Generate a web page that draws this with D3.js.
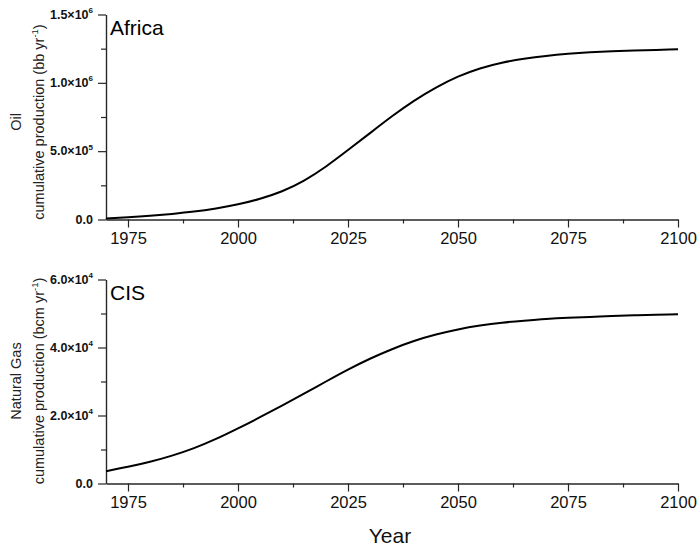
<!DOCTYPE html>
<html>
<head>
<meta charset="utf-8">
<script src="https://cdn.jsdelivr.net/npm/d3@7/dist/d3.min.js"></script>
<style>
  html, body { margin: 0; padding: 0; background: #fff; }
  svg { display: block; font-family: Arial, "Liberation Sans", sans-serif; }
</style>
</head>
<body>
<svg id="chart" width="698" height="548"></svg>
<script>
// Years sampled every five years, 1970–2100
const years = d3.range(1970, 2101, 5);

// Africa, oil cumulative production (bb yr^-1)
const oilAfrica = [
  7e3, 16e3, 27e3, 41e3, 58e3, 81e3, 111e3, 152e3, 207e3, 285e3, 388e3,
  508e3, 632e3, 755e3, 868e3, 965e3, 1045e3, 1105e3, 1147e3, 1176e3,
  1197e3, 1212e3, 1223e3, 1231e3, 1237e3, 1241e3, 1245e3
];

// CIS, natural gas cumulative production (bcm yr^-1)
const gasCIS = [
  3.6e3, 4.9e3, 6.4e3, 8.2e3, 10.4e3, 13.1e3, 16.2e3, 19.5e3, 22.9e3, 26.4e3,
  30.0e3, 33.5e3, 36.7e3, 39.5e3, 41.9e3, 43.8e3, 45.3e3, 46.45e3, 47.3e3,
  47.9e3, 48.4e3, 48.75e3, 49.0e3, 49.25e3, 49.45e3, 49.6e3, 49.75e3
];

// Axis ticks
const xMajor = [1975, 2000, 2025, 2050, 2075, 2100];
const xMinor = [1987.5, 2012.5, 2037.5, 2062.5, 2087.5];
const oilTicks = [0, 5e5, 1e6, 1.5e6];
const oilTickLabels = [["0.0", ""], ["5.0\u00d710", "5"], ["1.0\u00d710", "6"], ["1.5\u00d710", "6"]];
const oilMinor = [2.5e5, 7.5e5, 1.25e6];
const gasTicks = [0, 2e4, 4e4, 6e4];
const gasTickLabels = [["0.0", ""], ["2.0\u00d710", "4"], ["4.0\u00d710", "4"], ["6.0\u00d710", "4"]];
const gasMinor = [1e4, 3e4, 5e4];

const svg = d3.select("#chart");
const axisColor = "#262626";

const x = d3.scaleLinear().domain([1970, 2100]).range([106, 678]);

const panels = [
  {
    values: oilAfrica, yDomain: [0, 1.5e6], yRange: [219.5, 14.5],
    ticks: oilTicks, tickLabels: oilTickLabels, minor: oilMinor,
    region: "Africa", title1: "Oil", title2: "cumulative production (bb yr", titleCenter: 122
  },
  {
    values: gasCIS, yDomain: [0, 6e4], yRange: [483.5, 279.5],
    ticks: gasTicks, tickLabels: gasTickLabels, minor: gasMinor,
    region: "CIS", title1: "Natural Gas", title2: "cumulative production (bcm yr", titleCenter: 381
  }
];

panels.forEach(p => {
  const y = d3.scaleLinear().domain(p.yDomain).range(p.yRange);
  const g = svg.append("g");

  // x axis: major ticks with labels, minor ticks without
  const xAxis = g.append("g")
    .attr("transform", `translate(0,${p.yRange[0]})`)
    .call(d3.axisBottom(x).tickValues(xMajor).tickSize(8).tickPadding(5).tickSizeOuter(0).tickFormat(d3.format("d")));
  xAxis.select(".domain").attr("stroke", axisColor).attr("stroke-width", 1.4);
  xAxis.selectAll(".tick line").attr("stroke", axisColor).attr("stroke-width", 1.2);
  xAxis.selectAll(".tick text").attr("font-size", 16.5).attr("fill", "#111")
    .attr("font-family", "Arial, 'Liberation Sans', sans-serif");
  const xMin = g.append("g")
    .attr("transform", `translate(0,${p.yRange[0]})`)
    .call(d3.axisBottom(x).tickValues(xMinor).tickSize(4).tickFormat(""));
  xMin.select(".domain").remove();
  xMin.selectAll(".tick line").attr("stroke", axisColor).attr("stroke-width", 1.2);

  // y axis: major ticks, minor ticks, labels with superscript exponents
  const yAxis = g.append("g")
    .attr("transform", `translate(${x.range()[0]},0)`)
    .call(d3.axisLeft(y).tickValues(p.ticks).tickSize(8).tickSizeOuter(0).tickFormat(""));
  yAxis.select(".domain").attr("stroke", axisColor).attr("stroke-width", 1.4);
  yAxis.selectAll(".tick line").attr("stroke", axisColor).attr("stroke-width", 1.2);
  const yMin = g.append("g")
    .attr("transform", `translate(${x.range()[0]},0)`)
    .call(d3.axisLeft(y).tickValues(p.minor).tickSize(5).tickFormat(""));
  yMin.select(".domain").remove();
  yMin.selectAll(".tick line").attr("stroke", axisColor).attr("stroke-width", 1.2);

  const lbl = g.append("g").selectAll("text")
    .data(p.ticks.map((v, i) => ({ v, t: p.tickLabels[i] })))
    .join("text")
    .attr("x", 93)
    .attr("y", d => y(d.v) + 4)
    .attr("text-anchor", "end")
    .attr("font-size", 12.5)
    .attr("font-weight", "bold")
    .attr("fill", "#111");
  lbl.append("tspan").text(d => d.t[0]);
  lbl.filter(d => d.t[1] !== "").append("tspan")
    .attr("font-size", 8).attr("dy", -5.5).text(d => d.t[1]);

  // curve
  const line = d3.line()
    .x((d, i) => x(years[i]))
    .y(d => y(d))
    .curve(d3.curveNatural);
  g.append("path")
    .datum(p.values)
    .attr("d", line)
    .attr("fill", "none")
    .attr("stroke", "#000")
    .attr("stroke-width", 2);

  // region label
  g.append("text")
    .attr("x", 110)
    .attr("y", p.yRange[1] + 20.5)
    .attr("font-size", 21)
    .attr("fill", "#000")
    .text(p.region);

  // y axis titles, two lines rotated
  g.append("text")
    .attr("transform", `translate(20.5,${p.titleCenter}) rotate(-90)`)
    .attr("text-anchor", "middle")
    .attr("font-size", 14.5)
    .attr("fill", "#222")
    .text(p.title1);
  const t2 = g.append("text")
    .attr("transform", `translate(44,${p.titleCenter}) rotate(-90)`)
    .attr("text-anchor", "middle")
    .attr("font-size", 14.5)
    .attr("fill", "#222");
  t2.append("tspan").text(p.title2);
  t2.append("tspan").attr("font-size", 9.5).attr("dy", -6).text("-1");
  t2.append("tspan").attr("dy", 6).text(")");
});

// shared x axis title
svg.append("text")
  .attr("x", 390)
  .attr("y", 543)
  .attr("text-anchor", "middle")
  .attr("font-size", 21)
  .attr("fill", "#111")
  .text("Year");
</script>
</body>
</html>
